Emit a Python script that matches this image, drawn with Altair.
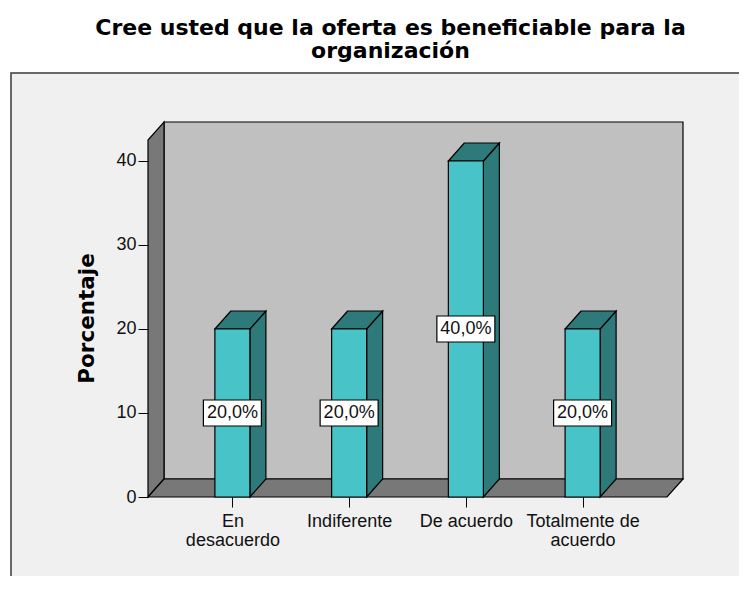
import altair as alt
import pandas as pd

# ---- data ----
categories = ["En desacuerdo", "Indiferente", "De acuerdo", "Totalmente de acuerdo"]
label_lines = [["En", "desacuerdo"], ["Indiferente"], ["De acuerdo"], ["Totalmente de", "acuerdo"]]
percent = [20.0, 20.0, 40.0, 20.0]
y_ticks = [0, 10, 20, 30, 40]
title_lines = ["Cree usted que la oferta es beneficiable para la", "organización"]
y_title = "Porcentaje"

# ---- style / geometry constants ----
FONT = "Liberation Sans"
TFONT = "DejaVu Sans"
HALF = 0.15          # half bar width (x units)
DX = 0.137           # depth offset in x units
DY = 2.14            # depth offset in y units
XMIN, XMAX = -0.723, 3.723
YTOP = 42.5
XDOM = [XMIN, XMAX + DX]
YDOM = [0, YTOP + DY]

FRONT = "#48C4C8"
SIDE = "#2E7A7A"
WALL = "#787878"
BACK = "#C0C0C0"
PANEL = "#F0F0F0"

n = len(categories)
label_expr = "[" + ",".join("[" + ",".join("'" + s + "'" for s in ls) + "]" for ls in label_lines) + "][datum.value]"


def X(field):
    return alt.X(field, type="quantitative", scale=alt.Scale(domain=XDOM, nice=False, zero=False),
                 axis=alt.Axis(values=list(range(n)), labelExpr=label_expr, title=None, grid=False,
                               domain=False, tickSize=10, tickColor="black", labelFont=FONT,
                               labelFontSize=18, labelColor="#111", labelPadding=5,
                               labelLineHeight=19, labelBaseline="top", zindex=2))


def Y(field):
    return alt.Y(field, type="quantitative", scale=alt.Scale(domain=YDOM, nice=False),
                 axis=alt.Axis(values=y_ticks, title=y_title, grid=False, domain=False,
                               tickSize=10, tickColor="black", labelFont=FONT, labelFontSize=18,
                               labelColor="#111", labelPadding=2, titleFont=TFONT,
                               titleFontSize=21.5, titleFontWeight="bold", titleColor="black",
                               titlePadding=17, titleY=196, zindex=2))


# panel background
panel = alt.Chart(alt.Data(values=[{"a": 1}])).mark_rect(
    fill=PANEL, stroke="#3a3a3a", strokeWidth=1.5
).encode(x=alt.value(-137), x2=alt.value(700), y=alt.value(-49), y2=alt.value(600))

# back wall
back_df = pd.DataFrame({"x": [XMIN + DX], "x2": [XMAX + DX], "y": [DY], "y2": [YTOP + DY]})
back = alt.Chart(back_df).mark_rect(fill=BACK, stroke="black", strokeWidth=1.2).encode(
    x=X("x"), x2="x2", y=Y("y"), y2="y2")

# left wall
left_df = pd.DataFrame({"x": [XMIN, XMIN + DX], "y": [0, DY], "y2": [YTOP, YTOP + DY]})
left = alt.Chart(left_df).mark_area(orient="vertical", fill=WALL, stroke="black",
                                    strokeWidth=1.2, opacity=1).encode(
    x=X("x"), y=Y("y"), y2="y2")

# floor
floor_df = pd.DataFrame({"y": [0, DY], "x": [XMIN, XMIN + DX], "x2": [XMAX, XMAX + DX]})
floor = alt.Chart(floor_df).mark_area(orient="horizontal", fill=WALL, stroke="black",
                                      strokeWidth=1.2, opacity=1).encode(
    y=Y("y"), x=X("x"), x2="x2")

# bars
side_rows, top_rows, front_rows = [], [], []
for i, (c, v) in enumerate(zip(categories, percent)):
    side_rows += [{"cat": c, "x": i + HALF, "y": 0, "y2": v},
                  {"cat": c, "x": i + HALF + DX, "y": DY, "y2": v + DY}]
    top_rows += [{"cat": c, "y": v, "x": i - HALF, "x2": i + HALF},
                 {"cat": c, "y": v + DY, "x": i - HALF + DX, "x2": i + HALF + DX}]
    front_rows.append({"cat": c, "x": i - HALF, "x2": i + HALF, "y": 0, "y2": v,
                       "xc": i, "ym": v / 2,
                       "lab": f"{v:.1f}%".replace(".", ",")})

side = alt.Chart(pd.DataFrame(side_rows)).mark_area(
    orient="vertical", fill=SIDE, stroke="black", strokeWidth=1.2, opacity=1).encode(
    x=X("x"), y=Y("y"), y2="y2", detail="cat:N")

top = alt.Chart(pd.DataFrame(top_rows)).mark_area(
    orient="horizontal", fill=SIDE, stroke="black", strokeWidth=1.2, opacity=1).encode(
    y=Y("y"), x=X("x"), x2="x2", detail="cat:N")

front_df = pd.DataFrame(front_rows)
front = alt.Chart(front_df).mark_rect(fill=FRONT, stroke="black", strokeWidth=1.2).encode(
    x=X("x"), x2="x2", y=Y("y"), y2="y2")

box = alt.Chart(front_df).mark_rect(width=58, height=26, fill="white", stroke="black",
                                    strokeWidth=1.2).encode(x=X("xc"), y=Y("ym"))

txt = alt.Chart(front_df).mark_text(font=FONT, fontSize=18, color="#111").encode(
    x=X("xc"), y=Y("ym"), text="lab:N")

chart = alt.layer(panel, back, left, floor, side, top, front, box, txt).properties(
    width=535, height=375,
    autosize=alt.AutoSizeParams(type="none"),
    padding={"left": 140, "top": 114, "right": 56, "bottom": 79},
    background="white",
    title=alt.TitleParams(title_lines, font=TFONT, fontSize=22, fontWeight="bold",
                          color="black", anchor="middle", dx=-25, offset=9,
                          lineHeight=23),
).configure_view(stroke=None)

chart.save("out.html", embed_options={"renderer": "svg", "actions": False})
